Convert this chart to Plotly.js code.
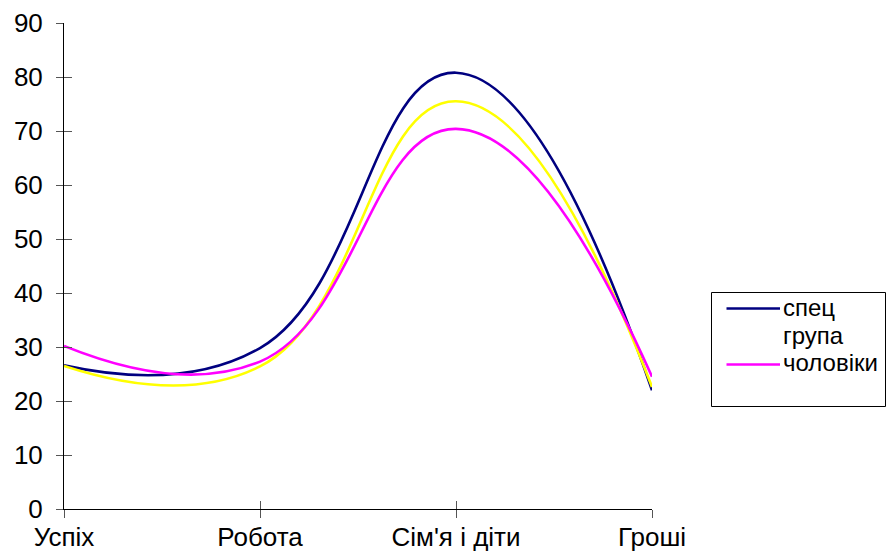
<!DOCTYPE html>
<html>
<head>
<meta charset="utf-8">
<script src="https://cdn.plot.ly/plotly-3.0.1.min.js"></script>
<style>
  html, body { margin: 0; padding: 0; background: #ffffff; }
  #chart { width: 886px; height: 553px; }
</style>
</head>
<body>
<div id="chart"></div>
<script>
// Categories along the x axis
const categories = ["Успіх", "Робота", "Сім'я і діти", "Гроші"];

// Series values
const specValues = [26.6, 29.8, 80.8, 22.0];
const grupaValues = [26.5, 26.4, 75.5, 22.6];
const menValues = [30.2, 27.3, 70.4, 24.5];

const seriesNames = ["спец", "група", "чоловіки"];
const seriesColors = ["#000080", "#FFFF00", "#FF00FF"];
const seriesValues = [specValues, grupaValues, menValues];

const yTicks = [0, 10, 20, 30, 40, 50, 60, 70, 80, 90];

const FONT = "Liberation Sans, Arial, sans-serif";

const traces = seriesValues.map((vals, i) => ({
  type: "scatter",
  mode: "lines",
  name: seriesNames[i],
  x: categories,
  y: vals,
  line: { color: seriesColors[i], width: 2.6, shape: "spline", smoothing: 1.3 },
  showlegend: false,
  hoverinfo: "skip"
}));

// Hand-built legend box (paper coordinates relative to the plot area)
const L = 64, T = 23, W = 588, H = 486;
const px = v => (v - L) / W;
const py = v => (T + H - v) / H;

const legendRows = [
  { text: seriesNames[0], color: seriesColors[0], y: 308.5, line: true },
  { text: seriesNames[1], color: seriesColors[1], y: 337, line: false },
  { text: seriesNames[2], color: seriesColors[2], y: 364.5, line: true }
];

const shapes = [{
  type: "rect", xref: "paper", yref: "paper",
  x0: px(711.5), x1: px(885.5), y0: py(406.5), y1: py(292.5),
  line: { color: "#000000", width: 1 }, fillcolor: "rgba(0,0,0,0)"
}];
const annotations = [];
legendRows.forEach(r => {
  if (r.line) {
    shapes.push({
      type: "line", xref: "paper", yref: "paper",
      x0: px(726.5), x1: px(780), y0: py(r.y), y1: py(r.y),
      line: { color: r.color, width: 2.6 }
    });
  }
  annotations.push({
    xref: "paper", yref: "paper", x: px(781), y: py(r.y - 1.5),
    xanchor: "left", yanchor: "middle", showarrow: false,
    text: r.text, font: { family: FONT, size: 24, color: "#000000" }
  });
});

const layout = {
  width: 886, height: 553,
  margin: { l: L, r: 886 - L - W, t: T, b: 553 - T - H },
  paper_bgcolor: "#ffffff", plot_bgcolor: "#ffffff",
  showlegend: false,
  font: { family: FONT, size: 26, color: "#000000" },
  xaxis: {
    type: "category", range: [0, 3],
    showgrid: false, zeroline: false,
    showline: true, linecolor: "#000000", linewidth: 1,
    ticks: "inside", ticklen: 8, tickcolor: "#555555", tickwidth: 1,
    tickfont: { family: FONT, size: 26, color: "#000000" },
    ticklabelstandoff: 5
  },
  yaxis: {
    range: [0, 90], tickvals: yTicks,
    showgrid: false, zeroline: false,
    showline: true, linecolor: "#000000", linewidth: 1,
    ticks: "outside", ticklen: 7, tickcolor: "#555555", tickwidth: 1,
    tickfont: { family: FONT, size: 26, color: "#000000" },
    ticklabelstandoff: 8
  },
  // Overlay axes that supply the other half of each cross tick
  xaxis2: {
    overlaying: "x", type: "linear", range: [0, 3], tickvals: [0, 1, 2, 3],
    side: "bottom", showgrid: false, zeroline: false, showline: false,
    ticks: "outside", ticklen: 8, tickcolor: "#555555", tickwidth: 1,
    showticklabels: false
  },
  yaxis2: {
    overlaying: "y", range: [0, 90], tickvals: yTicks,
    side: "left", showgrid: false, zeroline: false, showline: false,
    ticks: "inside", ticklen: 8, tickcolor: "#555555", tickwidth: 1,
    showticklabels: false
  },
  shapes: shapes,
  annotations: annotations
};

// Invisible helper trace so the overlay axes are laid out
traces.push({
  type: "scatter", mode: "markers", x: [0], y: [0],
  xaxis: "x2", yaxis: "y2", marker: { opacity: 0 },
  showlegend: false, hoverinfo: "skip"
});

Plotly.newPlot("chart", traces, layout, { displayModeBar: false, staticPlot: true });
</script>
</body>
</html>
